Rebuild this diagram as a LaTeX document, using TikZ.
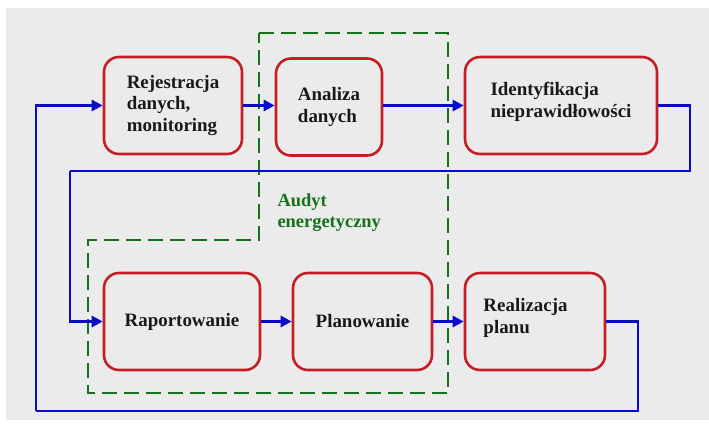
\documentclass[tikz,border=0pt]{standalone}
\usepackage{fontspec}
\setmainfont{Liberation Serif}
\usetikzlibrary{arrows.meta}

\definecolor{boxred}{RGB}{196,30,36}
\definecolor{flowblue}{RGB}{10,10,200}
\definecolor{auditgreen}{RGB}{20,115,25}
\definecolor{slidegray}{RGB}{235,235,235}

\begin{document}
\begin{tikzpicture}[
  x=1bp, y=-1bp,
  box/.style={
    draw=boxred, fill=slidegray, rounded corners=15bp,
    minimum width=#1, minimum height=97bp, line width=2.6pt,
    font=\fontsize{19}{22}\selectfont\bfseries, align=left, text=black!90
  },
  flow/.style={
    draw=flowblue, line width=2.8pt,
    -{Triangle[length=11bp,width=11bp]}
  },
  loop/.style={
    draw=flowblue, line width=2.8pt
  },
  audit/.style={
    draw=auditgreen, line width=2.9pt, dash pattern=on 15bp off 7bp
  }
]

\useasboundingbox (0,0) rectangle (709,430);
\fill[white] (0,0) rectangle (709,430);
\fill[slidegray] (6,8) rectangle (709,420);

% Audit area
\draw[audit] (259,33) -- (448,33) -- (448,393) -- (88,393) -- (88,240) -- (259,240) -- cycle;
\node[font=\fontsize{18.5}{21}\selectfont\bfseries, text=auditgreen, align=left, anchor=north west]
  (audyt) at (274,190) {Audyt\\energetyczny};

% Top row
\node[box=138bp] (rej) at (173,105.5) {Rejestracja\\danych,\\monitoring};
\node[box=106bp] (ana) at (329,107) {Analiza\\danych};
\node[box=192bp] (ide) at (561,105.5) {Identyfikacja\\nieprawidłowości\\[-10pt]\mbox{}};

% Bottom row
\node[box=156bp] (rap) at (182,321.5) {Raportowanie};
\node[box=139bp] (pla) at (362.5,321.5) {Planowanie};
\node[box=140bp] (rea) at (535,321.5) {Realizacja\hspace{1em}\mbox{}\\planu\\[-10pt]\mbox{}};

% Loop corners
\coordinate (topR) at (690,171);
\coordinate (topL) at (70,171);
\coordinate (botR) at (638,411);
\coordinate (botL) at (36,411);

% Arrows
\draw[flow] (rej.east |- 0,105.5) -- (ana.west |- 0,105.5);
\draw[flow] (ana.east |- 0,105.5) -- (ide.west);
\draw[loop] (ide.east) -| (topR) -- (topL);
\draw[flow] (topL) |- (rap.west);
\draw[flow] (rap) -- (pla);
\draw[flow] (pla) -- (rea);
\draw[loop] (rea.east) -| (botR) -- (botL);
\draw[flow] (botL) |- (rej.west);

\end{tikzpicture}
\end{document}
